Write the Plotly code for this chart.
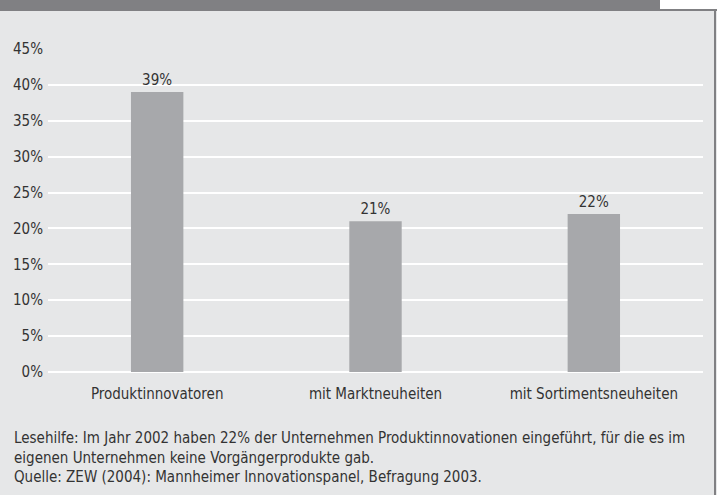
import plotly.graph_objects as go

categories = ["Produktinnovatoren", "mit Marktneuheiten", "mit Sortimentsneuheiten"]
shares = [39, 21, 22]
bar_labels = ["39%", "21%", "22%"]
tick_values = [0, 5, 10, 15, 20, 25, 30, 35, 40, 45]
tick_labels = ["0%", "5%", "10%", "15%", "20%", "25%", "30%", "35%", "40%", "45%"]
footer_lines = [
    "Lesehilfe: Im Jahr 2002 haben 22% der Unternehmen Produktinnovationen eingeführt, für die es im",
    "eigenen Unternehmen keine Vorgängerprodukte gab.",
    "Quelle: ZEW (2004): Mannheimer Innovationspanel, Befragung 2003.",
]

W, H = 717, 495
ML, MR, MT, MB = 48, 14, 49, 123
FONT = "DejaVu Sans Condensed"
FS = 15
TEXT = "#333333"
BG = "#e6e7e8"


def px_x(x):
    return (x - ML) / (W - ML - MR)


def px_y(y):
    return (H - MB - y) / (H - MT - MB)


fig = go.Figure()
fig.add_trace(go.Bar(
    x=categories,
    y=shares,
    width=0.24,
    marker=dict(color="#a7a8ab", line=dict(width=0)),
    text=bar_labels,
    textposition="outside",
    textfont=dict(family=FONT, size=FS, color=TEXT),
    cliponaxis=False,
    hoverinfo="skip",
))

# dark header band with white box top right
fig.add_shape(type="rect", xref="paper", yref="paper",
              x0=px_x(0), x1=px_x(W), y0=px_y(11), y1=px_y(0),
              fillcolor="#808083", line=dict(width=0), layer="below")
fig.add_shape(type="rect", xref="paper", yref="paper",
              x0=px_x(660), x1=px_x(W), y0=px_y(9), y1=px_y(0),
              fillcolor="white", line=dict(width=0), layer="below")
fig.add_shape(type="line", xref="paper", yref="paper",
              x0=px_x(715), x1=px_x(715), y0=px_y(H), y1=px_y(9),
              line=dict(color="#808083", width=2), layer="below")

for i, line in enumerate(footer_lines):
    fig.add_annotation(text=line, xref="paper", yref="paper",
                       x=px_x(12), y=px_y(438 + 19.5 * i),
                       xanchor="left", yanchor="middle", showarrow=False,
                       font=dict(family=FONT, size=FS, color=TEXT))

fig.update_layout(
    width=W, height=H,
    margin=dict(l=ML, r=MR, t=MT, b=MB),
    paper_bgcolor=BG, plot_bgcolor=BG,
    showlegend=False,
    font=dict(family=FONT, size=FS, color=TEXT),
)
fig.update_xaxes(showgrid=False, showline=False, ticks="outside", ticklen=8,
                 tickcolor=BG, tickfont=dict(family=FONT, size=FS, color=TEXT))
fig.update_yaxes(range=[0, 45], tickvals=tick_values, ticktext=tick_labels,
                 showgrid=True, gridcolor="white", gridwidth=2,
                 zeroline=True, zerolinecolor="white", zerolinewidth=2,
                 showline=False, ticks="", ticklabelstandoff=4,
                 tickfont=dict(family=FONT, size=FS, color=TEXT))

fig.write_html("out.html", config={"displayModeBar": False},
               post_script="document.body.style.margin='0';")
